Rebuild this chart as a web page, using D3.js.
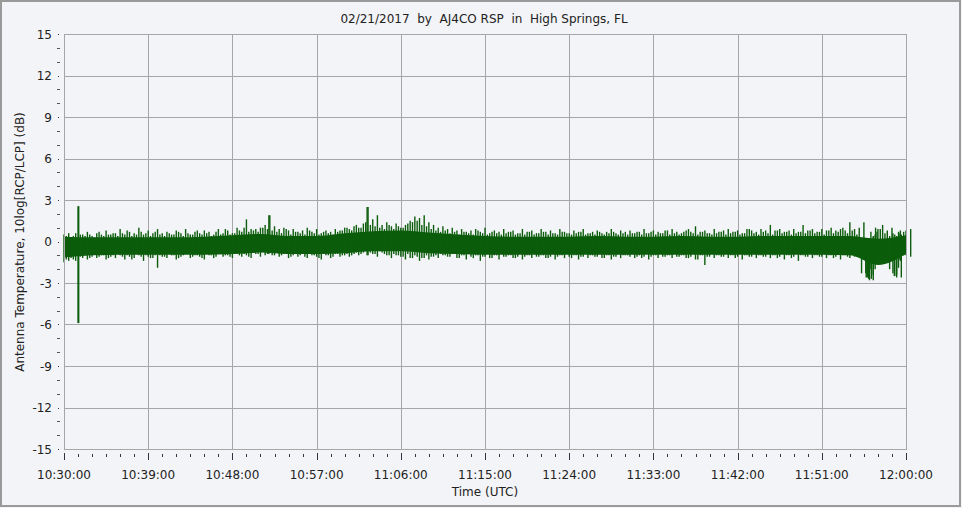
<!DOCTYPE html>
<html><head><meta charset="utf-8">
<script src="https://cdn.jsdelivr.net/npm/d3@7"></script>
<style>
html,body{margin:0;padding:0;background:#f3f4f7;}
svg{display:block;}
text{font-family:"DejaVu Sans",Verdana,sans-serif;font-size:12px;fill:#222;}
</style></head>
<body>
<svg id="chart" width="962" height="508"></svg>
<script>
// ---------- data ----------
const title = "02/21/2017  by  AJ4CO RSP  in  High Springs, FL";
const yTitle = "Antenna Temperature, 10log[RCP/LCP] (dB)";
const xTitle = "Time (UTC)";
const startTime = "10:30:00";
const endTime = "12:00:00";
const stepMinutes = 0.5;           // sample spacing of the peak arrays
const coreStepMinutes = 3;         // sample spacing of the core arrays
const yTicks = [-15,-12,-9,-6,-3,0,3,6,9,12,15];
const xTickLabels = ["10:30:00","10:39:00","10:48:00","10:57:00","11:06:00","11:15:00","11:24:00","11:33:00","11:42:00","11:51:00","12:00:00"];

// upper extreme of the trace per 0.5 min sample (dB)
const peakHi = [
 0.5,0.6,0.4,2.55,0.5,0.7,0.4,0.6,0.5,0.8,0.5,0.6,0.9,0.5,0.7,0.6,1.0,0.5,0.8,0.6,0.9,
 0.6,0.7,0.5,0.8,0.6,0.9,0.5,0.7,0.6,0.8,0.7,0.5,0.9,0.6,0.8,0.6,1.0,0.7,1.6,0.9,
 0.9,1.0,1.2,1.9,1.1,0.9,1.0,0.8,0.9,0.7,0.8,1.0,0.7,0.9,0.6,0.8,0.7,0.9,0.8,1.0,
 0.9,1.1,1.0,1.3,2.5,1.6,1.9,1.2,1.4,1.1,1.3,1.0,1.2,1.5,1.8,1.7,1.9,1.4,1.2,1.0,
 1.1,0.9,1.0,0.8,0.9,0.7,0.8,0.9,0.7,1.0,0.6,0.8,0.7,0.9,0.7,0.8,0.6,0.9,0.7,0.8,
 0.6,0.9,0.7,0.8,0.6,0.9,0.7,0.6,0.8,0.7,0.9,0.6,0.7,0.8,0.6,0.7,0.9,0.6,0.8,0.7,
 0.8,0.6,0.7,0.9,0.6,0.8,0.7,0.6,0.8,0.9,0.7,0.6,0.8,0.7,1.1,0.7,0.8,0.6,0.9,0.7,
 0.8,0.9,0.7,0.8,0.6,0.9,0.8,0.7,0.9,0.8,1.2,0.8,0.9,0.7,0.8,0.9,0.7,1.2,0.8,0.9,
 0.7,0.9,0.8,1.0,0.8,0.9,0.8,1.4,0.9,1.0,1.4,0.0,0.4,0.9,1.2,0.8,1.0,0.3,0.5,0.8,0.9
];
// lower extreme of the trace per 0.5 min sample (dB)
const peakLo = [
 -1.5,-1.4,-1.3,-5.9,-1.2,-1.3,-1.1,-1.2,-1.0,-1.3,-1.1,-1.2,-1.0,-1.3,-1.1,-1.2,-1.0,-1.4,-1.1,-1.2,-1.9,
 -1.1,-1.2,-1.0,-1.3,-1.1,-0.9,-1.2,-1.0,-1.1,-1.3,-1.0,-1.2,-0.9,-1.1,-1.0,-1.2,-0.9,-1.1,-1.0,-1.2,
 -0.9,-1.1,-1.0,-0.8,-1.0,-1.1,-0.9,-1.2,-1.0,-1.1,-0.9,-1.2,-1.0,-1.1,-1.3,-1.0,-1.2,-0.9,-1.1,-1.0,
 -1.1,-0.9,-1.0,-0.8,-1.0,-0.9,-1.1,-0.8,-1.0,-1.2,-1.0,-1.1,-1.3,-1.2,-1.0,-1.4,-1.2,-1.3,-1.1,-1.2,
 -1.0,-1.1,-0.9,-1.2,-1.0,-1.3,-1.1,-1.0,-1.4,-1.1,-1.2,-1.0,-1.3,-1.1,-1.0,-1.2,-1.1,-1.3,-1.0,-1.2,
 -1.1,-1.0,-1.2,-1.1,-1.3,-1.0,-1.2,-1.1,-1.0,-1.3,-1.1,-1.2,-1.0,-1.1,-1.2,-1.0,-1.3,-1.1,-1.2,-1.0,
 -1.1,-1.2,-1.0,-1.1,-1.3,-1.0,-1.2,-1.1,-1.0,-1.2,-1.1,-1.0,-1.2,-1.1,-1.3,-1.0,-1.7,-1.1,-1.2,-1.0,
 -1.1,-1.2,-1.0,-1.1,-1.3,-1.0,-1.1,-1.2,-1.0,-1.1,-1.2,-1.0,-1.1,-1.3,-1.0,-1.1,-1.4,-1.0,-1.1,-1.2,
 -1.0,-1.1,-1.2,-1.0,-1.1,-1.3,-1.0,-1.2,-1.1,-1.0,-1.2,-2.7,-2.8,-1.5,-1.1,-1.0,-1.4,-2.4,-2.6,-1.0,-1.1
];
// second, lower set of excursions between the samples above (dB)
const midHi = [
 0.4,0.3,0.6,0.5,0.4,0.5,0.3,0.7,0.4,0.5,0.6,0.4,0.6,0.8,0.4,0.5,0.7,0.6,0.4,0.7,
 0.5,0.4,0.6,0.5,0.7,0.4,0.6,0.5,0.8,0.5,0.6,0.4,0.7,0.5,0.9,0.5,0.6,0.8,1.0,0.7,
 0.8,0.7,1.0,0.9,0.8,0.7,0.6,0.9,0.5,0.7,0.6,0.5,0.8,0.6,0.5,0.7,0.6,0.5,0.7,0.8,
 1.0,0.8,1.2,1.0,1.4,1.2,1.1,1.0,0.9,1.2,0.9,1.1,1.0,1.3,1.4,1.5,1.2,1.1,0.9,0.8,
 0.7,0.8,0.6,0.7,0.5,0.7,0.6,0.5,0.8,0.6,0.5,0.7,0.6,0.5,0.6,0.7,0.5,0.6,0.5,0.7,
 0.5,0.6,0.7,0.5,0.6,0.5,0.7,0.6,0.5,0.6,0.7,0.5,0.6,0.5,0.7,0.5,0.6,0.7,0.5,0.6,
 0.5,0.6,0.7,0.5,0.6,0.7,0.5,0.6,0.8,0.5,0.6,0.5,0.7,0.9,0.6,0.5,0.7,0.6,0.5,0.6,
 0.7,0.5,0.6,0.7,0.5,0.6,0.9,0.6,0.5,0.7,0.6,0.5,0.8,0.6,0.7,0.5,0.6,0.7,0.6,0.8,
 0.6,0.7,0.5,0.8,0.6,0.7,1.0,0.6,0.8,0.5,0.1,0.2,0.7,1.0,0.9,0.6,0.4,0.2,0.6,0.7
];
const midLo = [
 -1.3,-1.2,-1.4,-1.1,-1.0,-1.2,-0.9,-1.1,-1.0,-1.2,-1.0,-0.9,-1.1,-1.0,-1.3,-0.9,-1.1,-1.0,-1.2,-1.0,
 -1.0,-1.1,-0.9,-1.0,-1.2,-1.0,-0.9,-1.1,-1.0,-1.2,-0.9,-1.0,-1.1,-0.9,-1.0,-1.1,-0.9,-1.0,-0.9,-1.1,
 -0.8,-0.9,-0.7,-0.9,-1.0,-0.8,-1.0,-0.9,-1.1,-0.9,-1.0,-1.1,-0.9,-1.0,-1.2,-0.9,-1.0,-1.1,-0.9,-1.0,
 -0.9,-1.0,-0.8,-0.9,-0.7,-0.8,-0.9,-0.7,-0.9,-1.0,-0.9,-1.0,-1.1,-0.9,-1.2,-1.1,-1.2,-1.0,-1.1,-1.0,
 -0.9,-1.0,-1.1,-0.9,-1.2,-1.0,-0.9,-1.2,-1.0,-1.1,-0.9,-1.2,-1.0,-0.9,-1.1,-1.0,-1.2,-0.9,-1.1,-1.0,
 -0.9,-1.1,-1.0,-1.2,-0.9,-1.1,-1.0,-0.9,-1.2,-1.0,-1.1,-0.9,-1.0,-1.1,-0.9,-1.2,-1.0,-1.1,-0.9,-1.0,
 -1.0,-0.9,-1.1,-1.2,-0.9,-1.1,-1.0,-0.9,-1.1,-1.0,-0.9,-1.1,-1.0,-1.2,-0.9,-1.3,-1.0,-1.1,-0.9,-1.0,
 -1.1,-0.9,-1.0,-1.2,-0.9,-1.0,-1.1,-0.9,-1.0,-1.1,-0.9,-1.0,-1.2,-0.9,-1.0,-1.2,-0.9,-1.0,-1.1,-0.9,
 -1.0,-1.1,-0.9,-1.0,-1.2,-0.9,-1.0,-1.1,-0.9,-1.1,-2.3,-2.6,-2.0,-1.2,-0.9,-1.1,-2.0,-2.5,-1.3,-1.0
];
// dense core of the trace, every 3 min (dB)
const coreHi = [0.35,0.3,0.3,0.3,0.3,0.35,0.45,0.55,0.4,0.4,0.6,0.75,0.8,0.65,0.5,0.4,0.35,0.35,0.35,0.4,0.35,0.35,0.4,0.35,0.35,0.4,0.4,0.4,0.4,0.2,0.45];
const coreLo = [-1.15,-1.0,-0.95,-0.95,-0.95,-0.95,-0.9,-0.8,-0.9,-0.9,-0.85,-0.7,-0.7,-0.85,-0.9,-0.95,-0.95,-0.95,-0.95,-0.95,-0.95,-0.95,-0.95,-0.95,-0.95,-0.95,-0.95,-0.95,-1.0,-1.7,-0.9];
// extra excursions near the end: [minutes after start, low dB, high dB]
const extraSpikes = [
 [85.7,-2.3,0.1],[85.9,-2.6,0.0],[86.1,-2.8,0.2],[86.3,-2.7,0.1],[86.5,-2.4,0.3],[86.7,-2.0,0.5],[86.9,-1.6,0.7],
 [88.6,-2.3,0.6],[88.8,-2.5,0.5],[89.0,-2.6,0.4],[89.2,-1.9,0.7],[89.4,-1.4,0.8],
 [1.57,-5.9,2.55],[21.9,-0.9,1.9],[32.4,-1.0,2.5]
];

// ---------- layout ----------
const svg = d3.select("#chart");
const W = 962, H = 508;
const m = {left:64, top:34, right:906, bottom:449};
const parse = d3.timeParse("%H:%M:%S");
const t0 = parse(startTime), t1 = parse(endTime);
const x = d3.scaleTime().domain([t0,t1]).range([m.left, m.right]);
const y = d3.scaleLinear().domain([-15,15]).range([m.bottom, m.top]);
const tAt = min => new Date(t0.getTime() + min*60000);

// frame
svg.append("rect").attr("x",0).attr("y",0).attr("width",W).attr("height",H).attr("fill","#f3f4f7");
svg.append("rect").attr("x",1).attr("y",1).attr("width",W-3).attr("height",H-3)
  .attr("fill","none").attr("stroke","#9a9a9a").attr("stroke-width",2);

// grid
const grid = svg.append("g").attr("stroke","#a6a6a6").attr("stroke-width",1).attr("shape-rendering","crispEdges");
yTicks.forEach(v => grid.append("line").attr("x1",m.left).attr("x2",m.right).attr("y1",Math.round(y(v))+0.5).attr("y2",Math.round(y(v))+0.5));
xTickLabels.forEach(s => { const xx = Math.round(x(parse(s)))+0.5;
  grid.append("line").attr("x1",xx).attr("x2",xx).attr("y1",m.top).attr("y2",m.bottom); });

// data
const green = "#0b5c0b";
const g = svg.append("g");
const coreData = coreHi.map((h,i)=>({t:tAt(i*coreStepMinutes), hi:h, lo:coreLo[i]}));
g.append("path").datum(coreData)
  .attr("d", d3.area().x(d=>x(d.t)).y0(d=>y(d.lo)).y1(d=>y(d.hi)).curve(d3.curveMonotoneX))
  .attr("fill", green);
const peaks = peakHi.map((h,i)=>({t:tAt(i*stepMinutes), hi:h, lo:peakLo[i]}));
g.selectAll("line.pk").data(peaks).join("line").attr("class","pk")
  .attr("x1",d=>x(d.t)).attr("x2",d=>x(d.t)).attr("y1",d=>y(d.lo)).attr("y2",d=>y(d.hi))
  .attr("stroke",green).attr("stroke-width",1.4);
const mids = midHi.map((h,i)=>({t:tAt((i+0.5)*stepMinutes), hi:h, lo:midLo[i]}));
g.selectAll("line.md").data(mids).join("line").attr("class","md")
  .attr("x1",d=>x(d.t)).attr("x2",d=>x(d.t)).attr("y1",d=>y(d.lo)).attr("y2",d=>y(d.hi))
  .attr("stroke",green).attr("stroke-width",1.4);
g.selectAll("line.ex").data(extraSpikes).join("line").attr("class","ex")
  .attr("x1",d=>x(tAt(d[0]))).attr("x2",d=>x(tAt(d[0]))).attr("y1",d=>y(d[1])).attr("y2",d=>y(d[2]))
  .attr("stroke",green).attr("stroke-width",1.4);

// plot border
svg.append("rect").attr("x",m.left+0.5).attr("y",m.top+0.5).attr("width",m.right-m.left).attr("height",m.bottom-m.top)
  .attr("fill","none").attr("stroke","#a6a6a6").attr("shape-rendering","crispEdges");

// y axis labels & ticks
const ya = svg.append("g");
yTicks.forEach(v => {
  ya.append("text").attr("x",52).attr("y",y(v)+4.5).attr("text-anchor","end").text(v);
  ya.append("rect").attr("x",58).attr("y",Math.round(y(v))).attr("width",1).attr("height",1).attr("fill","#333");
});
d3.range(-15,16).filter(v=>v%3!==0).forEach(v=>{
  ya.append("rect").attr("x",57).attr("y",Math.round(y(v))).attr("width",3).attr("height",1).attr("fill","#555");
});

// x axis ticks & labels
const xa = svg.append("g");
d3.range(0,91,1.5).forEach(mn => {
  const xx = Math.round(x(tAt(mn)));
  const major = mn % 9 === 0;
  xa.append("rect").attr("x",xx).attr("y",major?453:454).attr("width",1).attr("height",major?7:3).attr("fill","#334");
});
xTickLabels.forEach(s => xa.append("text").attr("x",x(parse(s))).attr("y",479).attr("text-anchor","middle").text(s));

// titles
svg.append("text").attr("x",484).attr("y",23).attr("text-anchor","middle").style("white-space","pre").text(title);
svg.append("text").attr("x",485).attr("y",496).attr("text-anchor","middle").text(xTitle);
svg.append("text").attr("transform","translate(24,242) rotate(-90)").attr("text-anchor","middle").text(yTitle);
</script>
</body></html>
